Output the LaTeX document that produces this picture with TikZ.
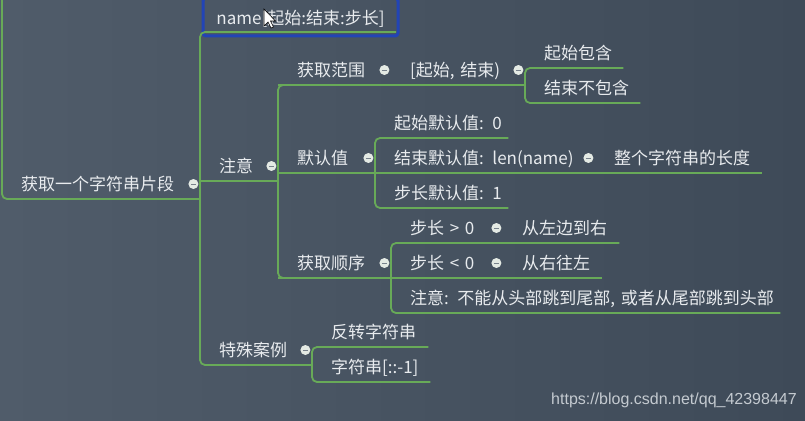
\documentclass[tikz,border=0pt]{standalone}
\usepackage{fontspec}
\usetikzlibrary{calc}
\newfontfamily\cnfont{Noto Sans CJK SC}
\newfontfamily\wmfont{Liberation Sans}
\definecolor{bgleft}{RGB}{80,92,106}
\definecolor{bgright}{RGB}{62,74,88}
\definecolor{branch}{RGB}{104,170,88}
\definecolor{seltopic}{RGB}{34,68,182}
\definecolor{topictext}{RGB}{232,235,238}
\definecolor{foldfill}{RGB}{228,234,228}
\definecolor{foldbar}{RGB}{120,130,140}
\definecolor{marktext}{RGB}{196,202,208}
% collapse mark at the right end of a topic
\newcommand\foldmark[1]{%
	\fill[foldfill] ($(#1.south east)+(-7,-15)$) circle (5);
	\draw[foldbar,line width=1pt] ($(#1.south east)+(-9.5,-15)$) -- ++(5,0);}

\begin{document}
\begin{tikzpicture}[x=1pt,y=1pt,yscale=-1,
	topic/.style={anchor=south west,inner xsep=0pt,inner ysep=0pt,text=topictext,
		font=\cnfont\fontsize{17}{20}\selectfont,text height=15pt,text depth=8.5pt,
		align=left,execute at begin node=\hspace*{19pt}},
	selbox/.style={anchor=south west,draw=seltopic,line width=3pt,rounded corners=3pt,
		outer sep=0pt,minimum width=195,minimum height=38,inner sep=0pt,text=topictext,
		font=\cnfont\fontsize{17}{20}\selectfont,text height=19pt,text depth=3pt},
	link/.style={draw=branch,line width=1.8pt,rounded corners=5pt}]
	\useasboundingbox (0,0) rectangle (805,420);
	\fill[left color=bgleft,right color=bgright] (0,0) rectangle (805,420);
	
	% Text Node
	\node[topic,text width=198] (root) at (2,199) {获取一个字符串片段};
	\node[selbox] (syntax) at (203,36) {name[起始:结束:步长]};
	\node[topic,text width=78] (note) at (200,181) {注意};
	\node[topic,text width=112] (special) at (200,365) {特殊案例};
	% Text Node
	\node[topic,text width=113] (range) at (278,85) {获取范围};
	\node[topic,text width=134] (interval) at (391,85) {[起始, 结束)};
	\node[topic,text width=98] (incl) at (525,68) {起始包含};
	\node[topic,text width=115] (excl) at (525,103) {结束不包含};
	% Text Node
	\node[topic,text width=97] (defval) at (278,173) {默认值};
	\node[topic,text width=133] (startdef) at (375,138) {起始默认值: 0};
	\node[topic,text width=220] (enddef) at (375,173) {结束默认值: len(name)};
	\node[topic,text width=167] (fulllen) at (595,173) {整个字符串的长度};
	\node[topic,text width=133] (stepdef) at (375,208) {步长默认值: 1};
	% Text Node
	\node[topic,text width=113] (order) at (278,278) {获取顺序};
	\node[topic,text width=112] (pos) at (391,243) {步长 > 0};
	\node[topic,text width=116] (ltr) at (503,243) {从左边到右};
	\node[topic,text width=112] (neg) at (391,278) {步长 < 0};
	\node[topic,text width=99] (rtl) at (503,278) {从右往左};
	\node[topic,text width=389] (warn) at (391,313) {注意: 不能从头部跳到尾部, 或者从尾部跳到头部};
	% Text Node
	\node[topic,text width=116] (reverse) at (312,347) {反转字符串};
	\node[topic,text width=118] (rslice) at (312,382) {字符串[::-1]};
	
	%Straight Lines
	\coordinate (outer) at (2,-3);
	\draw[link] (outer) |- (root.south east);
	\draw[link] ($(syntax.south east)+(-2,-4)$) -- ($(syntax.south west)+(-3,-4)$) |- (special.south east);
	\draw[link] (note.south west) -- (note.south east);
	%Straight Lines
	\draw[link] (range.south east) -- (range.south west) |- (order.south east);
	\draw[link] (range.south west) -- (interval.south east);
	\draw[link] (incl.south east) -- (incl.south west) |- (excl.south east);
	%Straight Lines
	\draw[link] (defval.south west) -- (fulllen.south east);
	\draw[link] (startdef.south east) -- (startdef.south west) |- (stepdef.south east);
	%Straight Lines
	\draw[link] (ltr.south east) -- (pos.south west) |- (warn.south east);
	\draw[link] (order.south west) -- (rtl.south east);
	\draw[link] (reverse.south east) -- (reverse.south west) |- (rslice.south east);
	
	% collapse marks
	\foldmark{root} \foldmark{note} \foldmark{special}
	\foldmark{range} \foldmark{interval} \foldmark{defval} \foldmark{enddef}
	\foldmark{order} \foldmark{pos} \foldmark{neg}
	
	% mouse pointer
	\draw[fill=white,line width=0.6pt] (264,9) -- (264,26) -- (268,22) -- (271,28) -- (273.5,27) -- (270.5,21) -- (275.5,21) -- cycle;
	
	% Text Node
	\node[anchor=west,inner sep=0pt,text=marktext,font=\wmfont\fontsize{16}{18}\selectfont] (mark) at (551,400) {https://blog.csdn.net/qq\_42398447};
\end{tikzpicture}
\end{document}
